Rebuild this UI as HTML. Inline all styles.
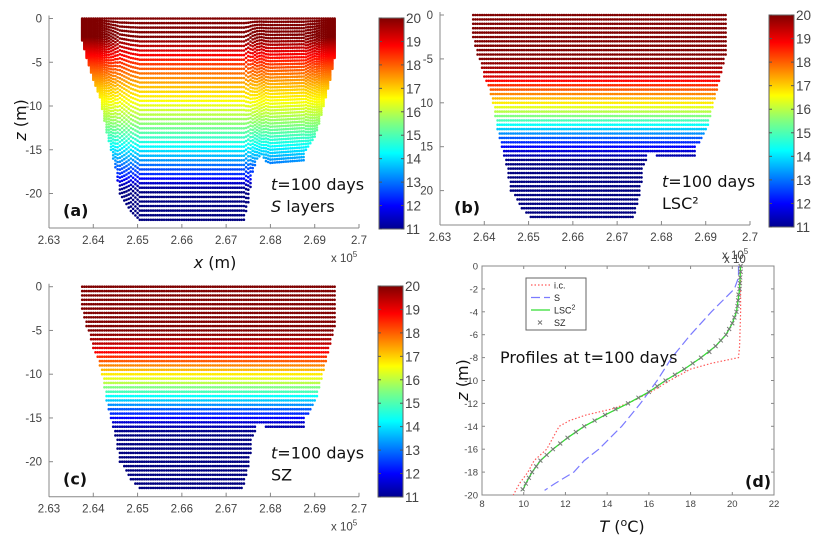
<!DOCTYPE html>
<html><head><meta charset="utf-8">
<style>
html,body{margin:0;padding:0;background:#fff;}
svg{display:block;font-family:"Liberation Sans",sans-serif;}
.tk{font-size:11.5px;fill:#444;}
.big{font-family:"DejaVu Sans","Liberation Sans",sans-serif;font-size:16px;fill:#111;}
</style></head>
<body>
<svg id="fig" width="817" height="549" viewBox="0 0 817 549">
<defs>
<linearGradient id="jet" x1="0" y1="1" x2="0" y2="0">
<stop offset="0" stop-color="#00008f"/><stop offset="0.11" stop-color="#0000ff"/>
<stop offset="0.36" stop-color="#00ffff"/><stop offset="0.5" stop-color="#80ff80"/>
<stop offset="0.62" stop-color="#ffff00"/><stop offset="0.87" stop-color="#ff0000"/>
<stop offset="1" stop-color="#800000"/></linearGradient>
</defs>
<g id="panels"></g>
<g id="pd"></g>
</svg>
<script>
// ---- data ----
const bathyX = [2.6375,2.6385,2.640,2.6415,2.643,2.645,2.646,2.6485,2.6505,2.674,2.675,2.676,2.677,2.678,2.679,2.680,2.6875,2.688,2.690,2.691,2.6925,2.6935,2.6945];
const bathyD = [2.5,4.5,7,9,13,17,20,22,23,23,21,17.5,16,15.5,16.3,16.5,16.2,15,13.5,12,9,7,4.5];
const icZ = [0,-4,-7,-8,-8.5,-9,-10,-11,-12,-12.5,-13,-13.5,-14,-15,-16,-17,-18,-19,-20];
const icT = [20.4,20.4,20.35,20.3,19,18,17,16.1,15,14.2,13,12.2,11.7,11.4,11.1,10.5,10.2,9.8,9.5];
const sZ = [0,-1,-2,-4,-6,-8,-10,-12,-14,-16,-17,-18,-19,-19.6];
const sT = [20.3,20.3,20.1,19,18,17.1,16.4,15.6,14.7,13.6,12.9,12.4,11.5,11.0];
const lZ = [0,-2,-4,-5,-6,-7,-8,-9,-10,-11,-12,-13,-14,-15,-16,-17,-18,-19,-19.6];
const lT = [20.4,20.35,20.2,20.0,19.7,19.2,18.5,17.7,16.8,16.0,15.0,13.9,12.9,12.1,11.4,10.8,10.4,10.1,9.95];
const szZ = [0,-0.5,-1,-1.5,-2,-2.5,-3,-3.5,-4,-4.5,-5,-5.5,-6,-6.5,-7,-7.5,-8,-8.5,-9,-9.5,-10,-10.5,-11,-11.5,-12,-12.5,-13,-13.5,-14,-14.5,-15,-15.5,-16,-16.5,-17,-17.5,-18,-18.5,-19,-19.5];
const szT = [20.4,20.4,20.38,20.37,20.35,20.3,20.28,20.25,20.2,20.1,20.0,19.85,19.7,19.45,19.2,18.9,18.5,18.1,17.7,17.25,16.8,16.4,16.0,15.5,15.0,14.4,13.9,13.4,12.9,12.5,12.1,11.75,11.4,11.1,10.8,10.6,10.4,10.25,10.1,9.95];
const xTicks = [2.63,2.64,2.65,2.66,2.67,2.68,2.69,2.7];
const xTickLabels = ["2.63","2.64","2.65","2.66","2.67","2.68","2.69","2.7"];
const cbTicks = [11,12,13,14,15,16,17,18,19,20];
const dTTicks = [8,10,12,14,16,18,20,22];
const dZTicks = [0,-2,-4,-6,-8,-10,-12,-14,-16,-18,-20];

const NS="http://www.w3.org/2000/svg";
function el(tag,attrs,parent,txt){const e=document.createElementNS(NS,tag);for(const k in attrs)e.setAttribute(k,attrs[k]);if(txt!==undefined)e.textContent=txt;parent.appendChild(e);return e;}
function interp(xs,ys,x){
  const asc = xs[xs.length-1]>xs[0];
  for(let i=0;i<xs.length-1;i++){const a=xs[i],b=xs[i+1];
    if((asc&&x>=a&&x<=b)||(!asc&&x<=a&&x>=b)){return ys[i]+(ys[i+1]-ys[i])*(x-a)/(b-a);}}
  return asc?(x<xs[0]?ys[0]:ys[ys.length-1]):(x>xs[0]?ys[0]:ys[ys.length-1]);}
function jet(v){v=Math.max(0,Math.min(1,v));
  const r=Math.max(0,Math.min(1,1.5-Math.abs(4*v-3))),g=Math.max(0,Math.min(1,1.5-Math.abs(4*v-2))),b=Math.max(0,Math.min(1,1.5-Math.abs(4*v-1)));
  return `rgb(${Math.round(r*255)},${Math.round(g*255)},${Math.round(b*255)})`;}

const panels=[
 {id:'a',xl:49,xr:359,y0:18.5,ppm:8.75,yb:228,cbx:379,cby0:18,cby1:229,mode:'sigma',pz:sZ,pt:sT,yl:["0","-5","-10","-15","-20"],t1:"S",t2:" layers",lab:"(a)"},
 {id:'b',xl:440,xr:750,y0:15,ppm:8.78,yb:225,cbx:769,cby0:15,cby1:227,mode:'z',pz:lZ,pt:lT,yl:["0","-5","10","15","20"],t1:"",t2:"LSC²",lab:"(b)"},
 {id:'c',xl:49,xr:359,y0:286.7,ppm:8.75,yb:496.7,cbx:378,cby0:286,cby1:497,mode:'z',pz:szZ,pt:szT,yl:["0","-5","-10","-15","-20"],t1:"",t2:"SZ",lab:"(c)"}
];
const root=document.getElementById('panels');
panels.forEach(p=>{
  const g=el('g',{},root);
  
  
  const sx=v=>p.xl+(v-2.63)/0.07*(p.xr-p.xl);
  const sy=z=>p.y0-z*p.ppm;
  const dots=el('g',{},g);
  
  
  for(let x=2.6375;x<=2.6946;x+=0.0005){
    const h=interp(bathyX,bathyD,x);
    let zs=[];
    if(p.mode==='sigma'){const N=44;for(let k=0;k<=N;k++)zs.push(-h*k/N);}
    else{for(let z=0;z>=-h;z-=0.5)zs.push(z);}
    zs.forEach(z=>{const T=interp(p.pz,p.pt,Math.max(z,p.pz[p.pz.length-1]));
      el('circle',{cx:sx(x).toFixed(1),cy:sy(z).toFixed(1),r:1.3,fill:jet((T-11)/9)},dots);});
  }
  const ax=el('g',{stroke:'#888','stroke-width':1},g);
  
  
  el('line',{x1:p.xl,y1:p.yb,x2:p.xr,y2:p.yb},ax);
  el('line',{x1:p.xl,y1:p.y0-3,x2:p.xl,y2:p.yb},ax);
  xTicks.forEach((v,i)=>{el('line',{x1:sx(v),y1:p.yb,x2:sx(v),y2:p.yb-4},ax);
    const t=el('text',{x:sx(v),y:p.yb+16,'text-anchor':'middle',class:'tk'},g,xTickLabels[i]);
    
    });
  [0,-5,-10,-15,-20].forEach((z,i)=>{el('line',{x1:p.xl,y1:sy(z),x2:p.xl+4,y2:sy(z)},ax);
    const t=el('text',{x:p.xl-7,y:sy(z)+4,'text-anchor':'end',class:'tk'},g,p.yl[i]);
    
    });
  const cb=el('rect',{x:p.cbx,y:p.cby0,width:25,height:p.cby1-p.cby0,fill:'url(#jet)',stroke:'#666','stroke-width':1},g);
  
  
  cbTicks.forEach(v=>{const y=p.cby1-(v-11)/9*(p.cby1-p.cby0);
    el('line',{x1:p.cbx,y1:y,x2:p.cbx+3,y2:y,stroke:'#555'},g);el('line',{x1:p.cbx+22,y1:y,x2:p.cbx+25,y2:y,stroke:'#555'},g);
    const t=el('text',{x:p.cbx+27,y:y+5,class:'tk'},g,String(v));t.style.fontSize='13.5px';
    
    });
  const a1=el('text',{x:p.xr-88,y:p.yb-38,class:'big'},g);
  
  
  el('tspan',{'font-style':'italic'},a1,'t');el('tspan',{},a1,'=100 days');
  const a2=el('text',{x:p.xr-88,y:p.yb-16,class:'big'},g);
  
  
  if(p.t1)el('tspan',{'font-style':'italic'},a2,p.t1);el('tspan',{},a2,p.t2);
  const lb=el('text',{x:p.xl+14,y:p.yb-12,class:'big','font-weight':'bold'},g,p.lab);
  
  
  const ex=el('text',{x:p.xr-28,y:p.yb+34,class:'tk','font-size':'10px'},g,'x 10');
  
  
  el('tspan',{dy:-5,'font-size':'8px'},ex,'5');
});
(function(){const g=root;
 let t=el('text',{x:26,y:120,class:'big','text-anchor':'middle',transform:'rotate(-90 26 120)'},g);
 
 el('tspan',{'font-style':'italic'},t,'z');el('tspan',{},t,' (m)');
 t=el('text',{x:215,y:268,class:'big','text-anchor':'middle'},g);
 
 el('tspan',{'font-style':'italic'},t,'x');el('tspan',{},t,' (m)');
})();

// ---- panel d ----
const pd=document.getElementById('pd');


const L=482,R=774,T0=266,B=495;
const tx=v=>L+(v-8)/14*(R-L), zy=z=>T0+(-z)/20*(B-T0);
el('rect',{x:L,y:T0,width:R-L,height:B-T0,fill:'none',stroke:'#888'},pd);
dTTicks.forEach(v=>{el('line',{x1:tx(v),y1:B,x2:tx(v),y2:B-3,stroke:'#888'},pd);el('line',{x1:tx(v),y1:T0,x2:tx(v),y2:T0+3,stroke:'#888'},pd);
 const t=el('text',{x:tx(v),y:B+12,'text-anchor':'middle',class:'tk'},pd,String(v));t.style.fontSize='9.5px';
 });
dZTicks.forEach(v=>{el('line',{x1:L,y1:zy(v),x2:L+3,y2:zy(v),stroke:'#888'},pd);el('line',{x1:R,y1:zy(v),x2:R-3,y2:zy(v),stroke:'#888'},pd);
 const t=el('text',{x:L-4,y:zy(v)+3.5,'text-anchor':'end',class:'tk'},pd,String(v));t.style.fontSize='9.5px';
 });
function path(zs,ts){return zs.map((z,i)=>(i?'L':'M')+tx(ts[i]).toFixed(1)+','+zy(z).toFixed(1)).join('');}
let ln=el('path',{d:path(icZ,icT),fill:'none',stroke:'#ff5a5a','stroke-width':1.2,'stroke-dasharray':'1.5,2'},pd);

ln=el('path',{d:path(sZ,sT),fill:'none',stroke:'#7b7bff','stroke-width':1.2,'stroke-dasharray':'9,4'},pd);

ln=el('path',{d:path(lZ,lT),fill:'none',stroke:'#33dd33','stroke-width':1.3},pd);

const mk=el('g',{stroke:'#777','stroke-width':1},pd);

szZ.forEach((z,i)=>{const x=tx(szT[i]),y=zy(z);el('path',{d:`M${x-2},${y-2}L${x+2},${y+2}M${x-2},${y+2}L${x+2},${y-2}`},mk);});
const lg=el('g',{},pd);

el('rect',{x:526,y:278,width:60,height:52,fill:'#fff',stroke:'#666'},lg);
const leg=[['i.c.','#ff5a5a','1.5,2'],['S','#7b7bff','9,4'],['LSC','#33dd33',''],['SZ','#777','x']];
leg.forEach((e,i)=>{const y=285+i*12.5;
 if(e[2]==='x'){el('path',{d:`M538,${y-2}L542,${y+2}M538,${y+2}L542,${y-2}`,stroke:'#777'},lg);}
 else el('line',{x1:531,y1:y,x2:550,y2:y,stroke:e[1],'stroke-width':1.2,'stroke-dasharray':e[2]},lg);
 const t=el('text',{x:554,y:y+3.5,'font-size':'9px',fill:'#222'},lg,e[0]);
 
 if(e[0]==='LSC')el('tspan',{dy:-4,'font-size':'7px'},t,'2');});
let t=el('text',{x:500,y:363,class:'big'},pd,'Profiles at t=100 days');

t=el('text',{x:745,y:487,class:'big','font-weight':'bold'},pd,'(d)');

t=el('text',{x:468,y:380,class:'big','text-anchor':'middle',transform:'rotate(-90 468 380)'},pd);

el('tspan',{'font-style':'italic'},t,'z');el('tspan',{},t,' (m)');
t=el('text',{x:622,y:532,class:'big','text-anchor':'middle'},pd);

el('tspan',{'font-style':'italic'},t,'T');el('tspan',{},t,' (');el('tspan',{dy:-6,'font-size':'11px'},t,'o');el('tspan',{dy:6},t,'C)');
t=el('text',{x:724,y:263,class:'tk','font-size':'10px'},pd,'x 10');

</script>
</body></html>
